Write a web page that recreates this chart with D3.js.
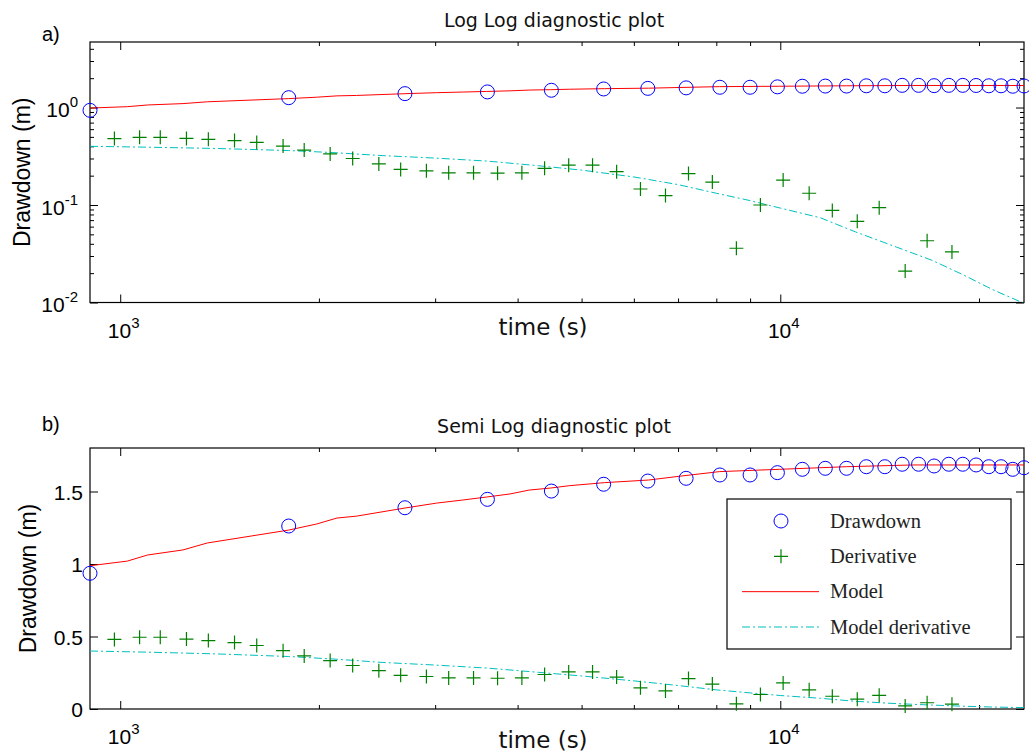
<!DOCTYPE html>
<html>
<head>
<meta charset="utf-8">
<script src="https://cdn.jsdelivr.net/npm/d3@7"></script>
<style>
  body { margin: 0; background: #fff; }
  svg { display: block; }
  .tick line { stroke: #000; }
  .tick text { font-family: "Liberation Sans", Arial, sans-serif; fill: #000; }
</style>
</head>
<body>
<script>
// measured data (time in s, drawdown in m)
const drawdownTime = [900, 1800, 2700, 3600, 4500, 5400, 6300, 7200, 8100, 9000, 9900, 10800, 11700,
  12600, 13500, 14400, 15300, 16200, 17100, 18000, 18900, 19800, 20700, 21600, 22500, 23400];
const drawdownValues = [0.936, 1.262, 1.388, 1.446, 1.503, 1.55, 1.572, 1.591, 1.614, 1.614, 1.63, 1.653, 1.66,
  1.66, 1.671, 1.671, 1.688, 1.688, 1.676, 1.688, 1.688, 1.683, 1.671, 1.671, 1.653, 1.664];

const derivTime = [980, 1070, 1150, 1260, 1360, 1490, 1610, 1765, 1900, 2080, 2250, 2465, 2660, 2910,
  3145, 3430, 3730, 4060, 4395, 4780, 5195, 5650, 6140, 6700, 7260, 7890, 8580, 9330, 10100, 11060,
  11990, 13080, 14120, 15460, 16690, 18200];
const derivValues = [0.48, 0.495, 0.495, 0.482, 0.472, 0.458, 0.438, 0.402, 0.366, 0.334, 0.30, 0.264,
  0.232, 0.224, 0.214, 0.214, 0.212, 0.214, 0.238, 0.256, 0.256, 0.22, 0.146, 0.125, 0.21, 0.172,
  0.036, 0.10, 0.18, 0.132, 0.088, 0.068, 0.094, 0.021, 0.043, 0.033];

const modelTime = [900, 1025, 1100, 1245, 1355, 1800, 1985, 2130, 2280, 2700, 3015, 3300, 3590, 3895,
  4165, 4490, 4790, 5415, 6315, 7030, 8085, 9965, 12590, 15850, 23400];
const modelValues = [0.988, 1.02, 1.062, 1.097, 1.145, 1.234, 1.276, 1.317, 1.33, 1.386, 1.42, 1.441,
  1.462, 1.483, 1.51, 1.524, 1.54, 1.561, 1.579, 1.605, 1.637, 1.653, 1.671, 1.683, 1.683];

const modelDerivTime = [900, 1100, 1400, 1800, 2100, 2500, 3000, 3600, 4300, 5000, 6000, 7000, 8000,
  9000, 10000, 11500, 13000, 15000, 17000, 19000, 21000, 23400];
const modelDerivValues = [0.40, 0.392, 0.38, 0.362, 0.345, 0.321, 0.303, 0.282, 0.253, 0.228, 0.194,
  0.162, 0.132, 0.111, 0.093, 0.074, 0.053, 0.037, 0.027, 0.019, 0.0135, 0.0098];

const xMajor = [1000, 10000];
const xMinor = [2000, 3000, 4000, 5000, 6000, 7000, 8000, 9000, 20000];
const logMajor = [0.01, 0.1, 1];
const logMinor = [0.02, 0.03, 0.04, 0.05, 0.06, 0.07, 0.08, 0.09,
  0.2, 0.3, 0.4, 0.5, 0.6, 0.7, 0.8, 0.9, 2, 3, 4];
const linTicks = [0, 0.5, 1, 1.5];
const legendLabels = ["Drawdown", "Derivative", "Model", "Model derivative"];

const width = 1029, height = 756;
const left = 90, right = 1024;

const svg = d3.select("body").append("svg")
  .attr("width", width)
  .attr("height", height);

const x = d3.scaleLog().domain([900, 23400]).range([left, right]);

const panels = [
  {
    id: "a", tag: "a)", title: "Log Log diagnostic plot",
    top: 42, bottom: 302.5,
    y: d3.scaleLog().domain([0.01, 4.7]).range([302.5, 42]),
    tagY: 41, titleY: 27, xlabY: 335, ylabX: 22
  },
  {
    id: "b", tag: "b)", title: "Semi Log diagnostic plot",
    top: 448, bottom: 709,
    y: d3.scaleLinear().domain([0, 1.8]).range([709, 448]),
    tagY: 431, titleY: 433, xlabY: 748, ylabX: 28
  }
];

function supLabel(sel, base, exp) {
  sel.text(null);
  sel.append("tspan").text(base);
  sel.append("tspan").attr("dy", -10).attr("font-size", 15).text(exp);
}

panels.forEach((p, pi) => {
  const g = svg.append("g");
  const y = p.y;

  g.append("clipPath").attr("id", "clip" + p.id)
    .append("rect")
    .attr("x", left).attr("y", p.top)
    .attr("width", right - left).attr("height", p.bottom - p.top);

  // x ticks, bottom and top
  g.append("g").attr("transform", `translate(0,${p.bottom})`)
    .call(d3.axisBottom(x).tickValues(xMinor).tickSize(-4).tickFormat(""));
  const xbm = g.append("g").attr("transform", `translate(0,${p.bottom})`)
    .call(d3.axisBottom(x).tickValues(xMajor).tickSize(-8).tickFormat(d => ""));
  xbm.selectAll(".tick text")
    .attr("font-size", 21)
    .attr("y", 35)
    .attr("dy", 0)
    .attr("dx", 3)
    .each(function (d) { supLabel(d3.select(this), "10", Math.round(Math.log10(d))); });
  g.append("g").attr("transform", `translate(0,${p.top})`)
    .call(d3.axisTop(x).tickValues(xMinor).tickSize(-4).tickFormat(""));
  g.append("g").attr("transform", `translate(0,${p.top})`)
    .call(d3.axisTop(x).tickValues(xMajor).tickSize(-8).tickFormat(""));

  // y ticks, left and right
  if (pi === 0) {
    g.append("g").attr("transform", `translate(${left},0)`)
      .call(d3.axisLeft(y).tickValues(logMinor).tickSize(-4).tickFormat(""));
    g.append("g").attr("transform", `translate(${right},0)`)
      .call(d3.axisRight(y).tickValues(logMinor).tickSize(-4).tickFormat(""));
    const yl = g.append("g").attr("transform", `translate(${left},0)`)
      .call(d3.axisLeft(y).tickValues(logMajor).tickSize(-8).tickPadding(12).tickFormat(d => ""));
    yl.selectAll(".tick text")
      .attr("font-size", 21)
      .attr("dy", "0.45em")
      .each(function (d) { supLabel(d3.select(this), "10", Math.round(Math.log10(d))); });
    g.append("g").attr("transform", `translate(${right},0)`)
      .call(d3.axisRight(y).tickValues(logMajor).tickSize(-8).tickFormat(""));
  } else {
    g.append("g").attr("transform", `translate(${left},0)`)
      .call(d3.axisLeft(y).tickValues(linTicks).tickSize(-8).tickPadding(7).tickFormat(d3.format("")))
      .selectAll(".tick text").attr("font-size", 21).attr("dy", "0.36em");
    g.append("g").attr("transform", `translate(${right},0)`)
      .call(d3.axisRight(y).tickValues(linTicks).tickSize(-8).tickFormat(""));
  }
  g.selectAll(".domain").remove();

  // frame
  g.append("rect")
    .attr("x", left).attr("y", p.top)
    .attr("width", right - left).attr("height", p.bottom - p.top)
    .attr("fill", "none").attr("stroke", "#000").attr("stroke-width", 1.2);

  // marks
  const plot = g.append("g");
  const lines = plot.append("g").attr("clip-path", `url(#clip${p.id})`);

  plot.selectAll("circle.dd")
    .data(drawdownTime.map((t, i) => [t, drawdownValues[i]]))
    .join("circle")
    .attr("class", "dd")
    .attr("cx", d => x(d[0])).attr("cy", d => y(d[1]))
    .attr("r", 7)
    .attr("fill", "none").attr("stroke", "#0000ff").attr("stroke-width", 1);

  plot.selectAll("path.der")
    .data(derivTime.map((t, i) => [t, derivValues[i]]))
    .join("path")
    .attr("class", "der")
    .attr("d", d => `M${x(d[0]) - 7},${y(d[1])}h14M${x(d[0])},${y(d[1]) - 7}v14`)
    .attr("fill", "none").attr("stroke", "#008000").attr("stroke-width", 1.2);

  const line = d3.line().x(d => x(d[0])).y(d => y(d[1]));
  lines.append("path")
    .datum(modelTime.map((t, i) => [t, modelValues[i]]))
    .attr("d", line)
    .attr("fill", "none").attr("stroke", "#ff0000").attr("stroke-width", 1);
  lines.append("path")
    .datum(modelDerivTime.map((t, i) => [t, modelDerivValues[i]]))
    .attr("d", line)
    .attr("fill", "none").attr("stroke", "#00bfbf").attr("stroke-width", 1)
    .attr("stroke-dasharray", "8,3,2,3");

  // texts
  g.append("text")
    .attr("x", 42).attr("y", p.tagY)
    .attr("font-family", "Liberation Sans, Arial, sans-serif").attr("font-size", 20)
    .text(p.tag);
  g.append("text")
    .attr("x", 554).attr("y", p.titleY)
    .attr("text-anchor", "middle")
    .attr("font-family", "DejaVu Sans, sans-serif").attr("font-size", 19)
    .attr("fill", "#111")
    .text(p.title);
  g.append("text")
    .attr("x", 543).attr("y", p.xlabY)
    .attr("text-anchor", "middle")
    .attr("font-family", "DejaVu Sans, sans-serif").attr("font-size", 23)
    .attr("fill", "#111")
    .text("time (s)");
  const cy = (p.top + p.bottom) / 2;
  g.append("text")
    .attr("transform", `translate(${p.ylabX},${cy}) rotate(-90)`)
    .attr("text-anchor", "middle")
    .attr("dy", "0.35em")
    .attr("font-family", "Liberation Sans, Arial, sans-serif").attr("font-size", 23)
    .text("Drawdown (m)");
});

// legend in panel b
const lg = svg.append("g");
lg.append("rect")
  .attr("x", 727).attr("y", 499).attr("width", 284).attr("height", 150)
  .attr("fill", "#fff").attr("stroke", "#000").attr("stroke-width", 1.2);
const rowY = d3.scalePoint().domain(legendLabels).range([521, 627]);
legendLabels.forEach((name, i) => {
  const ry = rowY(name);
  if (i === 0) {
    lg.append("circle").attr("cx", 781).attr("cy", ry).attr("r", 7)
      .attr("fill", "none").attr("stroke", "#0000ff");
  } else if (i === 1) {
    lg.append("path").attr("d", `M774,${ry}h14M781,${ry - 7}v14`)
      .attr("fill", "none").attr("stroke", "#008000").attr("stroke-width", 1.2);
  } else {
    lg.append("line").attr("x1", 742).attr("x2", 819).attr("y1", ry).attr("y2", ry)
      .attr("stroke", i === 2 ? "#ff0000" : "#00bfbf")
      .attr("stroke-dasharray", i === 2 ? null : "8,3,2,3");
  }
  lg.append("text")
    .attr("x", 830).attr("y", ry).attr("dy", "0.33em")
    .attr("font-family", "Liberation Serif, Times New Roman, serif").attr("font-size", 20.5)
    .attr("fill", "#222")
    .text(name);
});
</script>
</body>
</html>
